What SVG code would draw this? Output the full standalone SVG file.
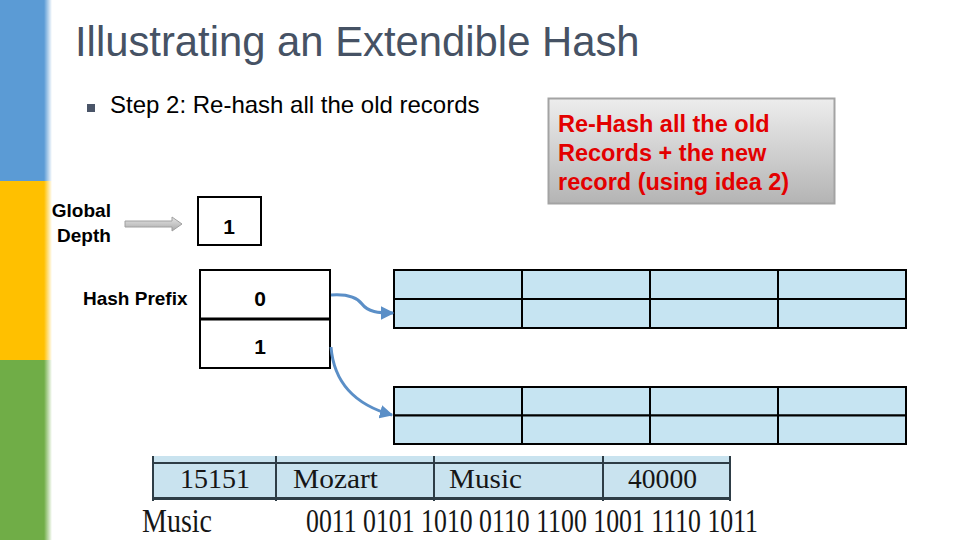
<svg xmlns="http://www.w3.org/2000/svg" width="960" height="540" viewBox="0 0 960 540">
  <defs>
    <linearGradient id="fade" x1="0" y1="0" x2="1" y2="0">
      <stop offset="0" stop-color="#ffffff" stop-opacity="0"/>
      <stop offset="1" stop-color="#ffffff" stop-opacity="1"/>
    </linearGradient>
    <linearGradient id="calloutGrad" x1="0" y1="0" x2="0" y2="1">
      <stop offset="0" stop-color="#ededed"/>
      <stop offset="1" stop-color="#b4b4b4"/>
    </linearGradient>
    <linearGradient id="grayArrow" x1="0" y1="0" x2="0" y2="1">
      <stop offset="0" stop-color="#e6e6e6"/>
      <stop offset="1" stop-color="#a9a9a9"/>
    </linearGradient>
    <marker id="blueHead" viewBox="0 0 10 10" refX="9" refY="5" markerWidth="4.5" markerHeight="4.5" orient="auto" markerUnits="strokeWidth">
      <path d="M0,0 L10,5 L0,10 z" fill="#5b8fc7"/>
    </marker>
    <style>
      .sans { font-family: "Liberation Sans", Arial, sans-serif; }
      .bold { font-weight: bold; }
      .serif { font-family: "Liberation Serif", "Times New Roman", serif; fill: #161616; }
      .cell { fill: #c6e4f2; stroke: #000000; stroke-width: 2; }
      .box { fill: #ffffff; stroke: #000000; stroke-width: 2; }
      .conn { fill: none; stroke: #5b8fc7; stroke-width: 3; marker-end: url(#blueHead); }
      .tline { stroke: #2e3d46; }
    </style>
  </defs>

  <rect width="960" height="540" fill="#ffffff"/>

  <!-- left colour bar -->
  <g id="sidebar">
    <rect x="0" y="0" width="52" height="181" fill="#5b9bd5"/>
    <rect x="0" y="181" width="52" height="179" fill="#ffc000"/>
    <rect x="0" y="360" width="52" height="180" fill="#70ad47"/>
    <rect x="44" y="0" width="8" height="540" fill="url(#fade)"/>
  </g>

  <g id="title">
    <text class="sans" x="75" y="56" font-size="41.8" fill="#465264">Illustrating an Extendible Hash</text>
  </g>

  <g id="bullet">
    <rect x="87" y="104" width="8" height="8" fill="#4a5568"/>
    <text class="sans" x="110" y="113" font-size="24" fill="#000000">Step 2: Re-hash all the old records</text>
  </g>

  <g id="callout">
    <rect x="548.5" y="98.5" width="286" height="105" fill="url(#calloutGrad)" stroke="#a3a3a3" stroke-width="2"/>
    <text class="sans bold" font-size="23.5" fill="#e30000">
      <tspan x="558" y="132">Re-Hash all the old</tspan>
      <tspan x="558" y="161">Records + the new</tspan>
      <tspan x="558" y="190">record (using idea 2)</tspan>
    </text>
  </g>

  <g id="global-depth-label">
    <text class="sans bold" font-size="19" fill="#000000" text-anchor="middle">
      <tspan x="84" y="217">Global</tspan>
      <tspan x="84" y="242">Depth</tspan>
    </text>
  </g>

  <g id="global-depth-arrow">
    <polygon points="125,221 172,221 172,217 182,224 172,231 172,227 125,227" fill="url(#grayArrow)" stroke="#a0a0a0" stroke-width="1"/>
  </g>

  <g id="global-depth">
    <rect class="box" x="198" y="197" width="63" height="48"/>
    <text class="sans bold" x="229" y="234" font-size="21" text-anchor="middle">1</text>
  </g>

  <g id="hash-prefix-label">
    <text class="sans bold" x="83" y="305" font-size="19" fill="#000000">Hash Prefix</text>
  </g>

  <g id="directory">
    <rect class="box" x="200" y="270" width="130" height="98"/>
    <line x1="200" y1="319" x2="330" y2="319" stroke="#000000" stroke-width="3"/>
    <text class="sans bold" x="260" y="306" font-size="21" text-anchor="middle">0</text>
    <text class="sans bold" x="260" y="354" font-size="21" text-anchor="middle">1</text>
  </g>

  <g id="bucket-0">
    <rect class="cell" x="394" y="270" width="128" height="29"/>
    <rect class="cell" x="522" y="270" width="128" height="29"/>
    <rect class="cell" x="650" y="270" width="128" height="29"/>
    <rect class="cell" x="778" y="270" width="128" height="29"/>
    <rect class="cell" x="394" y="299" width="128" height="29"/>
    <rect class="cell" x="522" y="299" width="128" height="29"/>
    <rect class="cell" x="650" y="299" width="128" height="29"/>
    <rect class="cell" x="778" y="299" width="128" height="29"/>
  </g>

  <g id="bucket-1">
    <rect class="cell" x="394" y="387" width="128" height="28.5"/>
    <rect class="cell" x="522" y="387" width="128" height="28.5"/>
    <rect class="cell" x="650" y="387" width="128" height="28.5"/>
    <rect class="cell" x="778" y="387" width="128" height="28.5"/>
    <rect class="cell" x="394" y="415.5" width="128" height="28.5"/>
    <rect class="cell" x="522" y="415.5" width="128" height="28.5"/>
    <rect class="cell" x="650" y="415.5" width="128" height="28.5"/>
    <rect class="cell" x="778" y="415.5" width="128" height="28.5"/>
  </g>

  <g id="connectors">
    <path class="conn" d="M331,295 C345,294 356,296 362,304 C368,312 378,313 393,313"/>
    <path class="conn" d="M331,347 C333,372 345,402 392,415"/>
  </g>

  <g id="record">
    <rect x="153" y="456" width="577" height="44" fill="#c9e3ef"/>
    <line class="tline" x1="153" y1="463" x2="730" y2="463" stroke-width="2"/>
    <line class="tline" x1="153" y1="498.5" x2="730" y2="498.5" stroke-width="3"/>
    <line class="tline" x1="153" y1="456" x2="153" y2="501" stroke-width="2"/>
    <line class="tline" x1="276" y1="456" x2="276" y2="501" stroke-width="2"/>
    <line class="tline" x1="434" y1="456" x2="434" y2="501" stroke-width="2"/>
    <line class="tline" x1="603" y1="456" x2="603" y2="501" stroke-width="2"/>
    <line class="tline" x1="730" y1="456" x2="730" y2="501" stroke-width="2"/>
    <text class="serif" x="180" y="488" font-size="27" textLength="70" lengthAdjust="spacingAndGlyphs">15151</text>
    <text class="serif" x="293" y="488" font-size="27" textLength="85" lengthAdjust="spacingAndGlyphs">Mozart</text>
    <text class="serif" x="449" y="488" font-size="27" textLength="73" lengthAdjust="spacingAndGlyphs">Music</text>
    <text class="serif" x="628" y="488" font-size="27" textLength="69" lengthAdjust="spacingAndGlyphs">40000</text>
  </g>

  <g id="hash-value">
    <text class="serif" x="142" y="532" font-size="34" textLength="70" lengthAdjust="spacingAndGlyphs">Music</text>
    <text class="serif" x="306" y="532" font-size="34" textLength="452" lengthAdjust="spacingAndGlyphs">0011 0101 1010 0110 1100 1001 1110 1011</text>
  </g>
</svg>
